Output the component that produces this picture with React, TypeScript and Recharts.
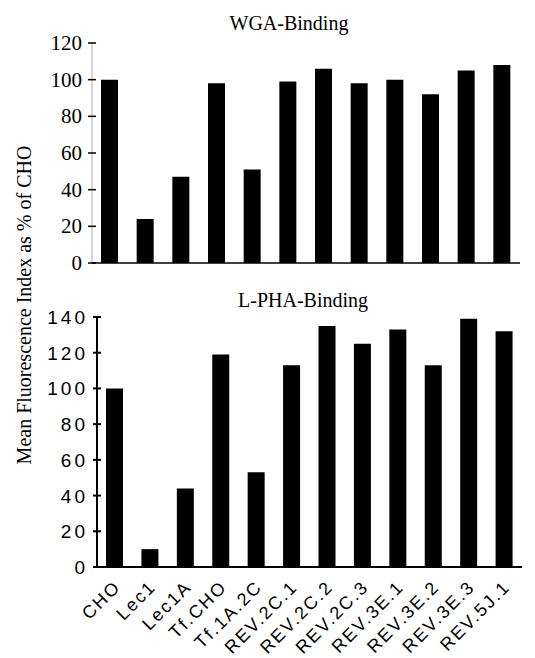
import { BarChart, Bar, XAxis, YAxis } from "recharts";

const cellLines = [
  "CHO",
  "Lec1",
  "Lec1A",
  "Tf.CHO",
  "Tf.1A.2C",
  "REV.2C.1",
  "REV.2C.2",
  "REV.2C.3",
  "REV.3E.1",
  "REV.3E.2",
  "REV.3E.3",
  "REV.5J.1",
];
const wgaBinding = [100, 24, 47, 98, 51, 99, 106, 98, 100, 92, 105, 108];
const lphaBinding = [100, 10, 44, 119, 53, 113, 135, 125, 133, 113, 139, 132];
const wgaTicks = [0, 20, 40, 60, 80, 100, 120];
const lphaTicks = [0, 20, 40, 60, 80, 100, 120, 140];

const wgaData = cellLines.map((name, i) => ({ name, value: wgaBinding[i] }));
const lphaData = cellLines.map((name, i) => ({ name, value: lphaBinding[i] }));

const SERIF = '"Liberation Serif", "Times New Roman", serif';
const SANS = '"Liberation Sans", Arial, sans-serif';

// y tick with a short mark crossing the axis line
function SerifTick({ x, y, payload }: any) {
  const ax = x + 10;
  return (
    <g>
      <line x1={ax - 4} x2={ax + 4} y1={y} y2={y} stroke="#000" strokeWidth={1.5} />
      <text x={x} y={y} dy={7} textAnchor="end" fontFamily={SERIF} fontSize={21} fill="#000">
        {payload.value}
      </text>
    </g>
  );
}

function SansTick({ x, y, payload }: any) {
  const ax = x + 12;
  return (
    <g>
      <line x1={ax - 4} x2={ax + 4} y1={y} y2={y} stroke="#000" strokeWidth={2} />
      <text x={x + 3} y={y} dy={7} textAnchor="end" fontFamily={SANS} fontSize={19} letterSpacing={3} fill="#000">
        {payload.value}
      </text>
    </g>
  );
}

function CategoryTick({ x, y, payload }: any) {
  return (
    <text
      transform={`translate(${x + 7},${y + 13}) rotate(-45)`}
      textAnchor="end"
      fontFamily={SANS}
      fontSize={18}
      letterSpacing={2}
      fill="#000"
    >
      {payload.value}
    </text>
  );
}

export default function App() {
  return (
    <div style={{ position: "absolute", left: 0, top: 0, width: 535, height: 658, background: "#fff" }}>
      <div style={{ position: "absolute", left: 0, top: 0 }}>
        <BarChart width={535} height={290} data={wgaData} margin={{ top: 43, right: 15, left: 42, bottom: 0 }}>
          <XAxis dataKey="name" height={27} tick={false} tickLine={false} axisLine={{ stroke: "#000", strokeWidth: 1.5 }} />
          <YAxis
            width={50}
            domain={[0, 120]}
            ticks={wgaTicks}
            interval={0}
            tickSize={0}
            tickMargin={10}
            tickLine={false}
            tick={<SerifTick />}
            axisLine={{ stroke: "#aaa", strokeWidth: 1 }}
          />
          <Bar dataKey="value" fill="#000" barSize={17} isAnimationActive={false} />
        </BarChart>
      </div>
      <div style={{ position: "absolute", left: 0, top: 290 }}>
        <BarChart width={535} height={368} data={lphaData} margin={{ top: 27, right: 13, left: 42, bottom: 0 }}>
          <XAxis
            dataKey="name"
            height={91}
            interval={0}
            tickLine={false}
            tick={<CategoryTick />}
            axisLine={{ stroke: "#000", strokeWidth: 2 }}
          />
          <YAxis
            width={55}
            domain={[0, 140]}
            ticks={lphaTicks}
            interval={0}
            tickSize={0}
            tickMargin={12}
            tickLine={false}
            tick={<SansTick />}
            axisLine={{ stroke: "#000", strokeWidth: 2 }}
          />
          <Bar dataKey="value" fill="#000" barSize={17} isAnimationActive={false} />
        </BarChart>
      </div>
      <svg width={535} height={658} style={{ position: "absolute", left: 0, top: 0, pointerEvents: "none" }}>
        <text x={289} y={30} textAnchor="middle" fontFamily={SERIF} fontSize={20} fill="#000">
          WGA-Binding
        </text>
        <text x={303} y={307} textAnchor="middle" fontFamily={SERIF} fontSize={20} fill="#000">
          L-PHA-Binding
        </text>
        <text
          transform="translate(31,305) rotate(-90)"
          textAnchor="middle"
          fontFamily={SERIF}
          fontSize={20}
          fill="#000"
        >
          Mean Fluorescence Index as % of CHO
        </text>
      </svg>
    </div>
  );
}
